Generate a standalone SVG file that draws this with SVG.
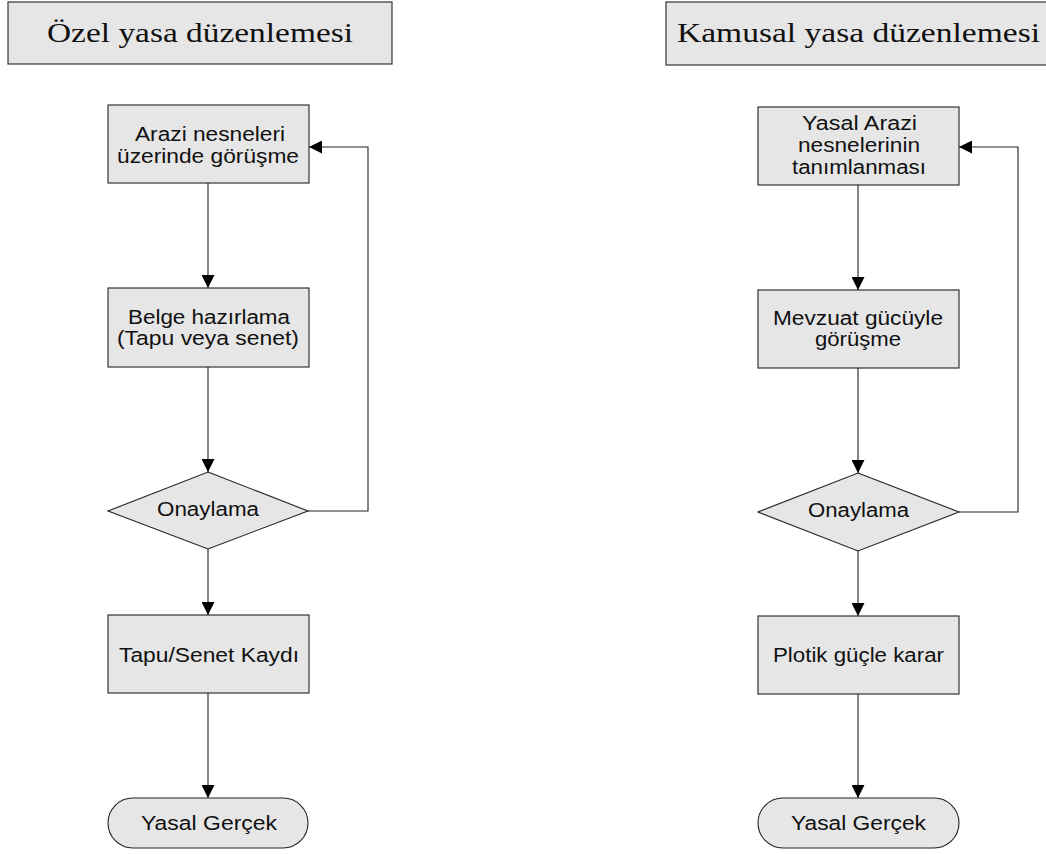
<svg xmlns="http://www.w3.org/2000/svg" width="1046" height="854" viewBox="0 0 1046 854">
  <style>
    .title-box { fill: #e6e6e6; stroke: #333333; stroke-width: 1.2; }
    .title { font-family: "Liberation Serif", "Times New Roman", serif; font-size: 28px; fill: #111111; }
    .box { fill: #e6e6e6; stroke: #222222; stroke-width: 1.1; }
    .label { font-family: "Liberation Sans", Arial, sans-serif; font-size: 20px; fill: #111111; }
    .conn { fill: none; stroke: #222222; stroke-width: 1.1; }
  </style>
  <defs>
    <marker id="arrow" markerUnits="userSpaceOnUse" markerWidth="13" markerHeight="13" viewBox="0 0 12 12" refX="12" refY="6" orient="auto">
      <path d="M0,0 L12,6 L0,12 Z" fill="#000000"/>
    </marker>
  </defs>

  <rect width="1046" height="854" fill="#ffffff"/>

  <!-- Column headers -->
  <g id="header-private">
    <rect class="title-box" x="8" y="2" width="384" height="62"/>
    <text class="title" x="47" y="42" textLength="306" lengthAdjust="spacingAndGlyphs">Özel yasa düzenlemesi</text>
  </g>
  <g id="header-public">
    <rect class="title-box" x="666" y="2" width="390" height="63"/>
    <text class="title" x="677" y="42" textLength="363" lengthAdjust="spacingAndGlyphs">Kamusal yasa düzenlemesi</text>
  </g>

  <!-- Connectors -->
  <g id="connectors">
    <!-- left flow -->
    <line class="conn" x1="208" y1="183" x2="208" y2="288" marker-end="url(#arrow)"/>
    <line class="conn" x1="208" y1="367" x2="208" y2="472" marker-end="url(#arrow)"/>
    <line class="conn" x1="208" y1="549" x2="208" y2="615" marker-end="url(#arrow)"/>
    <line class="conn" x1="208" y1="693" x2="208" y2="798" marker-end="url(#arrow)"/>
    <polyline class="conn" points="308,511 368,511 368,147 309,147" marker-end="url(#arrow)"/>
    <!-- right flow -->
    <line class="conn" x1="858" y1="185" x2="858" y2="290" marker-end="url(#arrow)"/>
    <line class="conn" x1="858" y1="368" x2="858" y2="473" marker-end="url(#arrow)"/>
    <line class="conn" x1="858" y1="551" x2="858" y2="616" marker-end="url(#arrow)"/>
    <line class="conn" x1="858" y1="694" x2="858" y2="798" marker-end="url(#arrow)"/>
    <polyline class="conn" points="959,512 1018,512 1018,147 959,147" marker-end="url(#arrow)"/>
  </g>

  <!-- Left column nodes -->
  <g id="l-gorusme">
    <rect class="box" x="108" y="105" width="201" height="78"/>
    <text class="label" x="135" y="141" textLength="150" lengthAdjust="spacingAndGlyphs">Arazi nesneleri</text>
    <text class="label" x="117" y="163" textLength="182" lengthAdjust="spacingAndGlyphs">üzerinde görüşme</text>
  </g>
  <g id="l-belge">
    <rect class="box" x="108" y="288" width="201" height="79"/>
    <text class="label" x="128" y="324" textLength="162" lengthAdjust="spacingAndGlyphs">Belge hazırlama</text>
    <text class="label" x="117" y="345" textLength="182" lengthAdjust="spacingAndGlyphs">(Tapu veya senet)</text>
  </g>
  <g id="l-onay">
    <polygon class="box" points="208,472 308,511 208,549 108,511"/>
    <text class="label" x="157" y="516" textLength="102" lengthAdjust="spacingAndGlyphs">Onaylama</text>
  </g>
  <g id="l-kayit">
    <rect class="box" x="108" y="615" width="201" height="78"/>
    <text class="label" x="119" y="662" textLength="180" lengthAdjust="spacingAndGlyphs">Tapu/Senet Kaydı</text>
  </g>
  <g id="l-gercek">
    <rect class="box" x="108" y="798" width="200" height="50" rx="25" ry="25"/>
    <text class="label" x="141" y="830" textLength="136" lengthAdjust="spacingAndGlyphs">Yasal Gerçek</text>
  </g>

  <!-- Right column nodes -->
  <g id="r-tanim">
    <rect class="box" x="758" y="107" width="201" height="78"/>
    <text class="label" x="802" y="130" textLength="115" lengthAdjust="spacingAndGlyphs">Yasal Arazi</text>
    <text class="label" x="798" y="152" textLength="122" lengthAdjust="spacingAndGlyphs">nesnelerinin</text>
    <text class="label" x="792" y="174" textLength="134" lengthAdjust="spacingAndGlyphs">tanımlanması</text>
  </g>
  <g id="r-mevzuat">
    <rect class="box" x="758" y="290" width="201" height="78"/>
    <text class="label" x="773" y="325" textLength="170" lengthAdjust="spacingAndGlyphs">Mevzuat gücüyle</text>
    <text class="label" x="815" y="346" textLength="86" lengthAdjust="spacingAndGlyphs">görüşme</text>
  </g>
  <g id="r-onay">
    <polygon class="box" points="858,473 959,512 858,551 758,512"/>
    <text class="label" x="808" y="517" textLength="101" lengthAdjust="spacingAndGlyphs">Onaylama</text>
  </g>
  <g id="r-karar">
    <rect class="box" x="758" y="616" width="201" height="78"/>
    <text class="label" x="773" y="662" textLength="171" lengthAdjust="spacingAndGlyphs">Plotik güçle karar</text>
  </g>
  <g id="r-gercek">
    <rect class="box" x="758" y="798" width="201" height="50" rx="25" ry="25"/>
    <text class="label" x="791" y="830" textLength="135" lengthAdjust="spacingAndGlyphs">Yasal Gerçek</text>
  </g>
</svg>
